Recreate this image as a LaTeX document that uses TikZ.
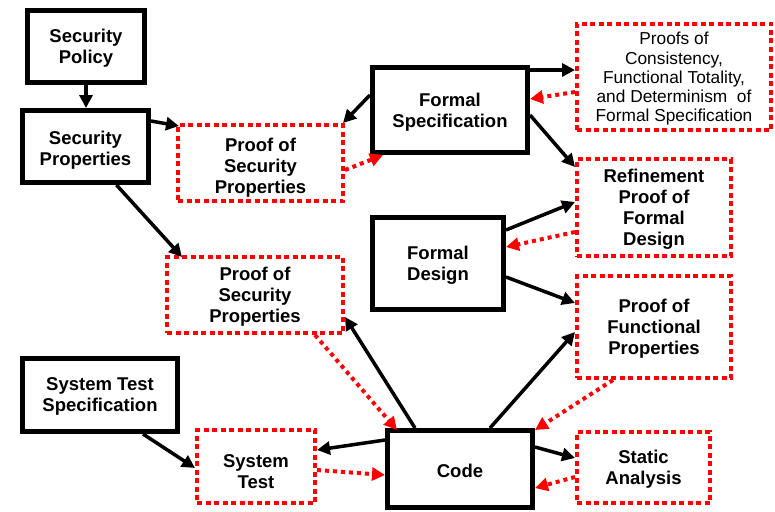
\documentclass[tikz,border=0pt]{standalone}
\usepackage{fontspec}
\setmainfont{Liberation Sans}
\usetikzlibrary{arrows.meta,calc}
\begin{document}
\begin{tikzpicture}[x=1pt,y=-1pt,
  every node/.style={inner sep=0pt,align=center,text depth=0pt},
  txt/.style={font=\bfseries\fontsize{18.5}{21}\selectfont},
  block/.style={txt,draw=black,line width=5pt,minimum width=#1},
  proofbox/.style={txt,draw=red,line width=4pt,dash pattern=on 5pt off 3.5pt,minimum width=#1},
  link/.style={draw=black,line width=3.5pt,-{Triangle[length=13pt,width=13pt]}},
  check/.style={draw=red,line width=4pt,dash pattern=on 4pt off 4pt,
    -{Triangle[length=13pt,width=13pt,fill=red]}}]
\useasboundingbox (0,0) rectangle (775,511);

% solid black blocks
\node[block=117pt,minimum height=72pt] (spol) at (86,46.5) {Security\\Policy};
\node[block=126pt,minimum height=72pt,text height=37pt] (sprop) at (85.5,146.5) {Security\\Properties};
\node[block=155pt,minimum height=85pt] (fs) at (450,110) {Formal\\Specification};
\node[block=131pt,minimum height=92pt] (fd) at (438,263.5) {Formal\\Design};
\node[block=145pt,minimum height=77pt,text height=17.5pt] (code) at (460,469) {Code};
\node[block=155pt,minimum height=73pt] (sts) at (100,395) {System Test\\Specification};

% red dotted proof and test boxes
\node[proofbox=165pt,minimum height=76pt,text height=60.5pt] (tp) at (260.5,163) {Proof of\\Security\\Properties};
\node[proofbox=176pt,minimum height=76pt] (mp) at (255,295) {Proof of\\Security\\Properties};
\node[proofbox=194pt,minimum height=106pt,font=\fontsize{17.3}{19.2}\selectfont] (cons) at (674,77)
  {Proofs of\\Consistency,\\Functional Totality,\\and Determinism\ \ of\\Formal Specification};
\node[proofbox=154pt,minimum height=97pt] (ref) at (654,207.5) {Refinement\\Proof of\\Formal\\Design};
\node[proofbox=154pt,minimum height=102pt] (fp) at (654,327) {Proof of\\Functional\\Properties};
\node[proofbox=133pt,minimum height=71pt] (sa) at (643.5,467.5) {Static\\Analysis};
\node[proofbox=118pt,minimum height=73pt,text height=43pt] (st) at (256,466.5) {System\\Test};

% derivation arrows
\draw[link] (spol.south) -- (spol.south |- sprop.north);
\draw[link] ($(sprop.east)+(0,-25.5)$) -- ($(tp.north west)+(3,3)$);
\draw[link] ($(sprop.south)+(31,0)$) -- ($(mp.north west)+(17,2)$);
\draw[link] ($(fs.west)+(0,-15)$) -- ($(tp.north east)+(-2,0)$);
\draw[link] ($(fs.east)+(0,-40)$) -- ($(cons.west)+(0,-7)$);
\draw[link] ($(fs.east)+(0,5)$) -- ($(ref.north west)+(0,10)$);
\draw[link] ($(fd.east)+(0,-33.5)$) -- ($(ref.west)+(0,-5.5)$);
\draw[link] ($(fd.east)+(0,13.5)$) -- ($(fp.west)+(0,-24)$);
\draw[link] ($(code.north)+(30,0)$) -- ($(fp.west)+(0,5)$);
\draw[link] ($(code.east)+(0,-22)$) -- ($(sa.west)+(0,-9.5)$);
\draw[link] ($(code.north)+(-45,0)$) -- ($(mp.east)+(0,22)$);
\draw[link] ($(code.west)+(0,-29)$) -- ($(st.east)+(0,-16.5)$);
\draw[link] ($(sts.south)+(43,0)$) -- ($(st.west)+(0,1.5)$);

% verification arrows
\draw[check] ($(tp.east)+(0,7)$) -- ($(fs.south west)+(13,0)$);
\draw[check] ($(cons.west)+(0,15)$) -- ($(fs.east)+(0,-11)$);
\draw[check] ($(ref.west)+(0,24.5)$) -- ($(fd.east)+(0,-16.5)$);
\draw[check] ($(fp.south)+(-41,0)$) -- ($(code.north east)+(0,2)$);
\draw[check] ($(sa.west)+(0,9.5)$) -- ($(code.east)+(0,19)$);
\draw[check] ($(mp.south)+(60,0)$) -- ($(code.north west)+(12,2)$);
\draw[check] ($(st.east)+(0,3.5)$) -- ($(code.west)+(0,6)$);
\end{tikzpicture}
\end{document}
